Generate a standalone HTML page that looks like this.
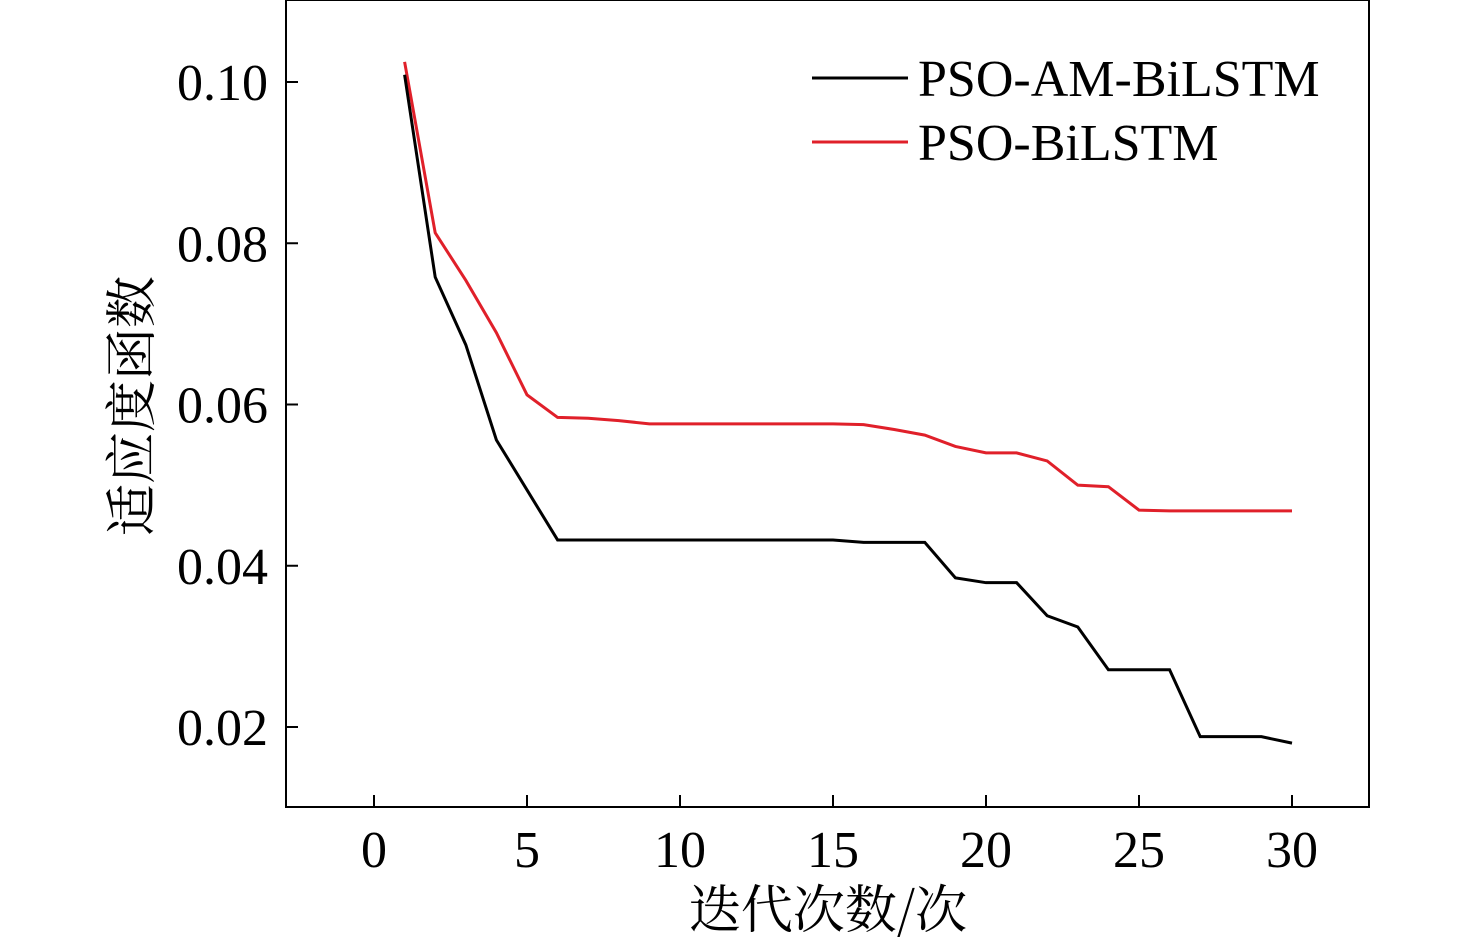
<!DOCTYPE html>
<html><head><meta charset="utf-8">
<style>
html,body{margin:0;padding:0;background:#fff;}
svg{display:block;font-family:"Liberation Serif","Noto Serif CJK SC",serif;}
</style></head>
<body>
<svg id="chart" width="1476" height="948" viewBox="0 0 1476 948">
<rect x="286" y="0" width="1083" height="807" fill="none" stroke="#000" stroke-width="2"/>
<g id="ticks"></g>
<g id="series"></g>
<text x="150" y="406" font-size="52" text-anchor="middle" transform="rotate(-90 150 406)" font-family="'Noto Serif CJK SC',serif">适应度函数</text>
<text x="828" y="928" font-size="52" text-anchor="middle" font-family="'Noto Serif CJK SC',serif">迭代次数/次</text>
<g>
<line x1="812" y1="78" x2="908" y2="78" stroke="#000" stroke-width="3"/>
<text x="918" y="96" font-size="52">PSO-AM-BiLSTM</text>
<line x1="812" y1="142" x2="908" y2="142" stroke="#e0202a" stroke-width="3"/>
<text x="918" y="160" font-size="52">PSO-BiLSTM</text>
</g>
</svg>
<script>
const iterations = [1,2,3,4,5,6,7,8,9,10,11,12,13,14,15,16,17,18,19,20,21,22,23,24,25,26,27,28,29,30];
const amBilstm = [0.1009,0.0758,0.0674,0.0556,0.0494,0.0432,0.0432,0.0432,0.0432,0.0432,0.0432,0.0432,0.0432,0.0432,0.0432,0.0429,0.0429,0.0429,0.0385,0.0379,0.0379,0.0338,0.0324,0.0271,0.0271,0.0271,0.0188,0.0188,0.0188,0.0180];
const bilstm = [0.1025,0.0813,0.0754,0.0689,0.0612,0.0584,0.0583,0.0580,0.0576,0.0576,0.0576,0.0576,0.0576,0.0576,0.0576,0.0575,0.0569,0.0562,0.0548,0.0540,0.0540,0.0530,0.0500,0.0498,0.0469,0.0468,0.0468,0.0468,0.0468,0.0468];
const xTicks = [0,5,10,15,20,25,30];
const yTicks = [0.02,0.04,0.06,0.08,0.10];
const yTickLabels = ["0.02","0.04","0.06","0.08","0.10"];

function xScale(v){ return 374 + v*30.6; }
function yScale(v){ return 82 + (0.10 - v)*8062.5; }
const NS="http://www.w3.org/2000/svg";
const tg=document.getElementById('ticks');
xTicks.forEach(t=>{
  const l=document.createElementNS(NS,'line');
  l.setAttribute('x1',xScale(t));l.setAttribute('x2',xScale(t));
  l.setAttribute('y1',807);l.setAttribute('y2',795);
  l.setAttribute('stroke','#000');l.setAttribute('stroke-width',2);
  
  
  tg.appendChild(l);
  const tx=document.createElementNS(NS,'text');
  tx.setAttribute('x',xScale(t));tx.setAttribute('y',867);
  tx.setAttribute('font-size',52);tx.setAttribute('text-anchor','middle');
  tx.textContent=t;
  
  
  tg.appendChild(tx);
});
yTicks.forEach((t,i)=>{
  const l=document.createElementNS(NS,'line');
  l.setAttribute('x1',286);l.setAttribute('x2',298);
  l.setAttribute('y1',yScale(t));l.setAttribute('y2',yScale(t));
  l.setAttribute('stroke','#000');l.setAttribute('stroke-width',2);
  
  
  tg.appendChild(l);
  const tx=document.createElementNS(NS,'text');
  tx.setAttribute('x',268);tx.setAttribute('y',yScale(t)+18);
  tx.setAttribute('font-size',52);tx.setAttribute('text-anchor','end');
  tx.textContent=yTickLabels[i];
  
  
  tg.appendChild(tx);
});
const sg=document.getElementById('series');
function drawLine(vals,color,name){
  const p=document.createElementNS(NS,'polyline');
  p.setAttribute('points',vals.map((v,i)=>xScale(iterations[i])+','+yScale(v)).join(' '));
  p.setAttribute('fill','none');p.setAttribute('stroke',color);p.setAttribute('stroke-width',3);
  
  
  sg.appendChild(p);
}
drawLine(bilstm,'#e0202a','line-pso-bilstm');
drawLine(amBilstm,'#000','line-pso-am-bilstm');
</script>
</body></html>
